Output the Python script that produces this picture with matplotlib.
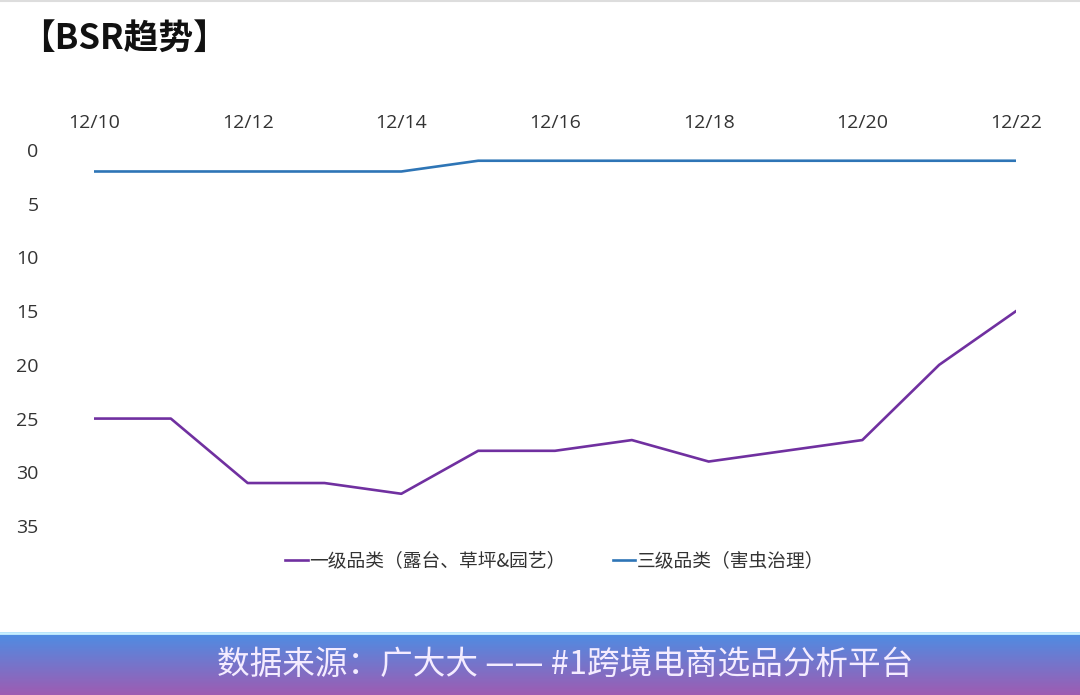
import matplotlib
matplotlib.use('Agg')
import matplotlib.pyplot as plt
import numpy as np

plt.rcParams['font.family'] = ['Noto Sans CJK SC', 'DejaVu Sans']

dates = ['12/10', '12/11', '12/12', '12/13', '12/14', '12/15', '12/16',
         '12/17', '12/18', '12/19', '12/20', '12/21', '12/22']
top_cat = [25, 25, 31, 31, 32, 28, 28, 27, 29, 28, 27, 20, 15]
sub_cat = [2, 2, 2, 2, 2, 1, 1, 1, 1, 1, 1, 1, 1]
names = ['一级品类（露台、草坪&园艺）', '三级品类（害虫治理）']
colors = ['#7030a0', '#2e75b6']
yticks = [0, 5, 10, 15, 20, 25, 30, 35]

fig = plt.figure(figsize=(10.8, 6.95), dpi=100)
ax = fig.add_axes([94 / 1080, 1 - 526 / 695, (1016 - 94) / 1080, (526 - 150) / 695])

x = np.arange(len(dates))
ax.plot(x, top_cat, color=colors[0], lw=1.9, label=names[0])
ax.plot(x, sub_cat, color=colors[1], lw=1.9, label=names[1])

ax.set_xlim(0, len(dates) - 1)
ax.set_ylim(35, 0)
ax.set_yticks(yticks)
ax.set_xticks(x[::2])
ax.set_xticklabels(dates[::2])
ax.xaxis.tick_top()
ax.tick_params(axis='x', length=0, pad=13, labelsize=14, labelcolor='#333333')
ax.tick_params(axis='y', length=0, pad=40, labelsize=14, labelcolor='#333333')
for lab in ax.get_xticklabels() + ax.get_yticklabels():
    lab.set_family(['Open Sans', 'DejaVu Sans'])
for s in ax.spines.values():
    s.set_visible(False)

leg = ax.legend(loc='center', bbox_to_anchor=(0.5, 1 - (561 - 150) / (526 - 150)),
                ncol=2, frameon=False, fontsize=13.5, handlelength=1.2,
                handletextpad=0.1, columnspacing=2.5)
for t in leg.get_texts():
    t.set_color('#333333')

fig.text(20 / 1080, 1 - 38 / 695, '【BSR趋势】', fontsize=25, fontweight='bold',
         va='center', ha='left', color='#111111')

# top thin border
fig.add_artist(plt.Line2D([0, 1], [0.998, 0.998], color='#dddddd', lw=1.5))

# bottom banner with gradient
bax = fig.add_axes([0, 0, 1, 63 / 695])
grad = np.linspace(0, 1, 100).reshape(-1, 1)
c_top = np.array([0x4c, 0x8e, 0xe4]) / 255
c_bot = np.array([0x9e, 0x5c, 0xb2]) / 255
img = c_top[None, None, :] * (1 - grad[:, :, None]) + c_bot[None, None, :] * grad[:, :, None]
bax.imshow(img, aspect='auto', extent=[0, 1, 0, 1])
bax.axhline(0.985, color='#c8f0ff', lw=2)
bax.set_xlim(0, 1)
bax.set_ylim(0, 1)
bax.axis('off')
bax.text(565 / 1080, 0.48, '数据来源：广大大 —— #1跨境电商选品分析平台', color='#f4ecff',
         fontsize=23.5, ha='center', va='center')

fig.savefig('out.png', dpi=100)
